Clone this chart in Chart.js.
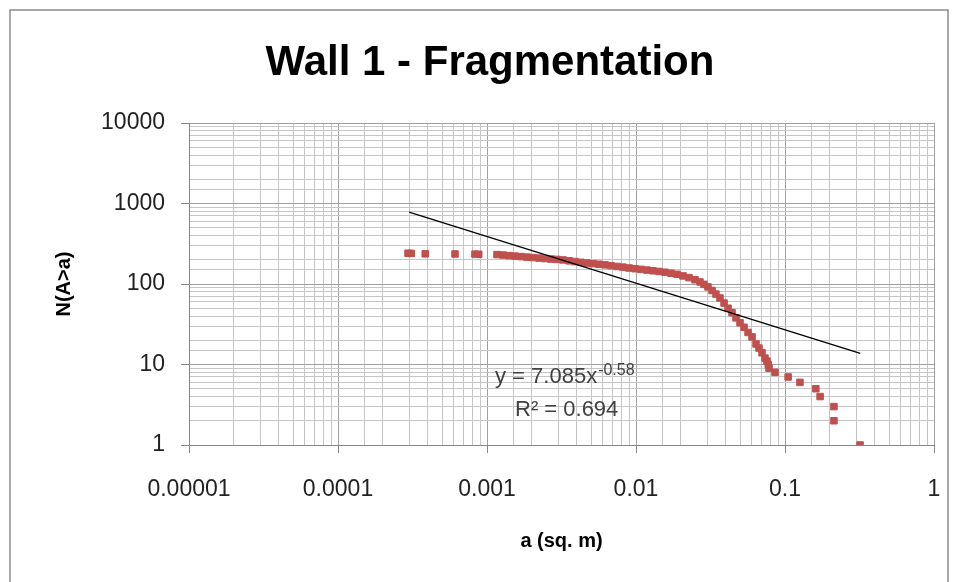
<!DOCTYPE html>
<html>
<head>
<meta charset="utf-8">
<script src="https://cdn.jsdelivr.net/npm/chart.js@4/dist/chart.umd.min.js"></script>
<style>
  html, body { margin: 0; padding: 0; background: #ffffff; }
  #wrap { width: 958px; height: 582px; }
</style>
</head>
<body>
<div id="wrap"><canvas id="c" width="958" height="582"></canvas></div>
<script>
// ---- Data ----
const areas = [
  2.95e-4, 3.1e-4, 3.85e-4, 6.1e-4, 8.3e-4, 8.8e-4,
  1.167e-3, 1.281e-3, 1.405e-3, 1.541e-3, 1.691e-3, 1.855e-3, 2.035e-3, 2.234e-3, 2.450e-3, 2.689e-3,
  2.950e-3, 3.236e-3, 3.551e-3, 3.896e-3, 4.274e-3, 4.690e-3, 5.145e-3, 5.645e-3, 6.193e-3, 6.795e-3,
  7.455e-3, 8.180e-3, 8.975e-3, 9.847e-3, 0.01080, 0.01185, 0.01300, 0.01427, 0.01565, 0.01717,
  0.01884, 0.02067, 0.02268, 0.02489, 0.02689,
  0.0286, 0.0304, 0.0324, 0.0344, 0.0366, 0.0390, 0.0415, 0.0441, 0.0469, 0.0499,
  0.0531, 0.0565, 0.0601, 0.0639, 0.0669, 0.0701, 0.0734, 0.0757, 0.0772, 0.0781,
  0.0857, 0.105, 0.126, 0.161, 0.172, 0.213, 0.213, 0.319
];
const counts = [
  241, 240, 237, 236, 235, 234,
  232, 229, 225, 222, 219, 216, 213, 210, 207, 204,
  202, 199, 194, 190, 186, 182, 179, 176, 173, 169,
  165, 162, 158, 155, 152, 149, 146, 143, 140, 136,
  132, 126, 120, 113, 106,
  99, 92, 83, 75, 67, 58, 50, 44, 38, 33,
  29, 25, 22, 18, 16, 14, 12, 11, 10, 9,
  8, 7, 6, 5, 4, 3, 2, 1
];
// Power-law trend line end points (y = 7.085x^-0.58, R² = 0.694)
const trendX = [3.0e-4, 0.32];
const trendY = [783, 13.7];
const xTickLabels = ['0.00001', '0.0001', '0.001', '0.01', '0.1', '1'];
const yTickLabels = ['1', '10', '100', '1000', '10000'];
const titleText = 'Wall 1 - Fragmentation';
const xTitle = 'a (sq. m)';
const yTitle = 'N(A>a)';
const eqMain = 'y = 7.085x';
const eqExp = '-0.58';
const eqR2 = 'R² = 0.694';

// ---- Chart ----
const pointsData = areas.map((a, i) => ({ x: a, y: counts[i] }));
const trendData = trendX.map((a, i) => ({ x: a, y: trendY[i] }));

function isDecade(v) {
  const e = Math.log10(v);
  return Math.abs(e - Math.round(e)) < 1e-6;
}

const FONT = '"Liberation Sans", Arial, sans-serif';

const framePlugin = {
  id: 'frame',
  afterDraw(chart) {
    const ctx = chart.ctx;
    ctx.save();
    ctx.strokeStyle = '#8c8c8c';
    ctx.lineWidth = 1.5;
    ctx.strokeRect(10, 10, 938, 620);
    // chart title
    ctx.fillStyle = '#000000';
    ctx.textAlign = 'center';
    ctx.textBaseline = 'middle';
    ctx.font = 'bold 42px ' + FONT;
    ctx.fillText(titleText, 490, 63);
    // equation labels
    ctx.fillStyle = '#404040';
    ctx.textBaseline = 'alphabetic';
    ctx.textAlign = 'left';
    ctx.font = '22px ' + FONT;
    ctx.fillText(eqMain, 495, 383);
    const w = ctx.measureText(eqMain).width;
    ctx.font = '16px ' + FONT;
    ctx.fillText(eqExp, 495 + w + 1, 375);
    ctx.font = '22px ' + FONT;
    ctx.fillText(eqR2, 515, 416);
    ctx.restore();
  }
};

new Chart(document.getElementById('c'), {
  type: 'scatter',
  data: {
    datasets: [
      {
        label: 'N(A>a)',
        data: pointsData,
        pointStyle: 'rect',
        pointRadius: 4.6,
        pointBackgroundColor: '#C0504D',
        pointBorderColor: '#C0504D',
        pointBorderWidth: 1,
        showLine: false,
        order: 2
      },
      {
        label: 'Power trend',
        data: trendData,
        showLine: true,
        borderColor: '#000000',
        borderWidth: 1.3,
        pointRadius: 0,
        fill: false,
        order: 1
      }
    ]
  },
  options: {
    responsive: false,
    animation: false,
    layout: { padding: { left: 0, right: 24, top: 123, bottom: 0 } },
    plugins: {
      legend: { display: false },
      tooltip: { enabled: false },
      title: { display: false }
    },
    scales: {
      x: {
        type: 'logarithmic',
        min: 1e-5,
        max: 1,
        afterFit: (s) => { s.height = 137; s.paddingLeft = 0; s.paddingRight = 0; },
        border: { color: '#868686', width: 1 },
        grid: {
          color: (c) => (c.tick && isDecade(c.tick.value)) ? '#a0a0a0' : '#c6c6c6',
          tickColor: (c) => (c.tick && isDecade(c.tick.value)) ? '#868686' : 'rgba(0,0,0,0)',
          tickLength: 8,
          lineWidth: 1
        },
        ticks: {
          autoSkip: false,
          maxRotation: 0,
          minRotation: 0,
          padding: 23,
          color: '#222222',
          font: { family: FONT, size: 23 },
          callback: (v) => isDecade(v) ? xTickLabels[Math.round(Math.log10(v)) + 5] : ''
        },
        title: {
          display: true,
          text: xTitle,
          color: '#000000',
          font: { family: FONT, size: 20, weight: 'bold' },
          padding: { top: 0, bottom: 29 }
        }
      },
      y: {
        type: 'logarithmic',
        min: 1,
        max: 10000,
        afterFit: (s) => { s.width = 189; },
        border: { color: '#868686', width: 1 },
        grid: {
          color: (c) => (c.tick && isDecade(c.tick.value)) ? '#a0a0a0' : '#c6c6c6',
          tickColor: (c) => (c.tick && isDecade(c.tick.value)) ? '#868686' : 'rgba(0,0,0,0)',
          tickLength: 8,
          lineWidth: 1
        },
        ticks: {
          autoSkip: false,
          padding: 16,
          color: '#222222',
          font: { family: FONT, size: 23 },
          callback: (v) => isDecade(v) ? yTickLabels[Math.round(Math.log10(v))] : ''
        },
        title: {
          display: true,
          text: yTitle,
          color: '#000000',
          font: { family: FONT, size: 20, weight: 'bold' },
          padding: { top: 52, bottom: 0 }
        }
      }
    }
  },
  plugins: [framePlugin]
});
</script>
</body>
</html>
